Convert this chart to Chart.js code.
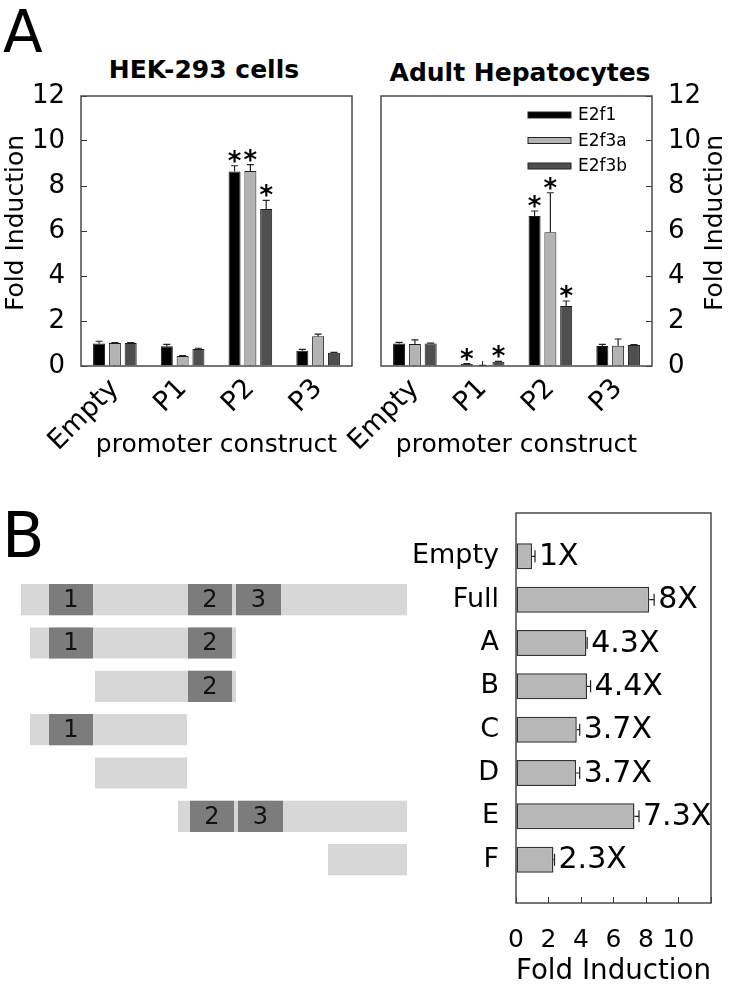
<!DOCTYPE html>
<html>
<head>
<meta charset="utf-8">
<script src="https://cdn.jsdelivr.net/npm/chart.js@4.4.0/dist/chart.umd.min.js"></script>
<style>
body { margin: 0; background: #fff; }
#fig { position: relative; width: 729px; height: 989px; font-family: "DejaVu Sans", sans-serif; color: #000; }
#fig canvas, #fig .txt { position: absolute; }
.txt { line-height: 1; white-space: nowrap; }
.panel { font-size: 58px; }
.ttl { font-size: 25px; font-weight: bold; transform: translateX(-50%); }
</style>
</head>
<body>
<div id="fig">
  <div class="txt panel" style="left:3px;top:3px">A</div>
  <div class="txt ttl" style="left:204px;top:57px">HEK-293 cells</div>
  <div class="txt ttl" style="left:520px;top:60px">Adult Hepatocytes</div>
  <canvas id="hek" width="365" height="390" style="left:0;top:80px"></canvas>
  <canvas id="hep" width="399" height="390" style="left:330px;top:80px"></canvas>
  <div class="txt panel" style="left:2px;top:505px;font-size:62px">B</div>
  <canvas id="map" width="410" height="489" style="left:0;top:500px"></canvas>
  <canvas id="dele" width="329" height="489" style="left:400px;top:500px"></canvas>
</div>
<script>
// ---- panel A data ----
var promoters = ['Empty', 'P1', 'P2', 'P3'];
var seriesNames = ['E2f1', 'E2f3a', 'E2f3b'];
var seriesColors = ['#000000', '#b3b3b3', '#4f4f4f'];
var foldTicks = [0, 2, 4, 6, 8, 10, 12];

var hekE2f1 = [1.00, 0.88, 8.65, 0.68];
var hekE2f3a = [1.02, 0.44, 8.67, 1.32];
var hekE2f3b = [1.02, 0.76, 6.98, 0.59];
var hekE2f1Err = [0.10, 0.08, 0.25, 0.06];
var hekE2f3aErr = [0.02, 0.02, 0.28, 0.10];
var hekE2f3bErr = [0.02, 0.03, 0.38, 0.02];
var hekE2f1Sig = [0, 0, 1, 0];
var hekE2f3aSig = [0, 0, 1, 0];
var hekE2f3bSig = [0, 0, 1, 0];

var hepE2f1 = [1.00, 0.09, 6.67, 0.89];
var hepE2f3a = [0.98, 0.02, 5.95, 0.90];
var hepE2f3b = [1.00, 0.19, 2.67, 0.93];
var hepE2f1Err = [0.05, 0.02, 0.22, 0.07];
var hepE2f3aErr = [0.18, 0.01, 1.75, 0.30];
var hepE2f3bErr = [0.02, 0.02, 0.22, 0.02];
var hepE2f1Sig = [0, 1, 1, 0];
var hepE2f3aSig = [0, 0, 1, 0];
var hepE2f3bSig = [0, 1, 1, 0];

// ---- panel B data ----
var constructs = ['Empty', 'Full', 'A', 'B', 'C', 'D', 'E', 'F'];
var deletionFold = [0.99, 8.2, 4.33, 4.37, 3.74, 3.70, 7.29, 2.30];
var deletionErr = [0.18, 0.30, 0.05, 0.22, 0.18, 0.22, 0.28, 0.07];
var deletionText = ['1X', '8X', '4.3X', '4.4X', '3.7X', '3.7X', '7.3X', '2.3X'];
var deletionTicks = [0, 2, 4, 6, 8, 10, 12];
var deletionTickLabels = ['0', '2', '4', '6', '8', '10', ''];

// construct map, relative position along the promoter
var promoterSpan = [null, [21, 407], [30, 236], [95, 236], [30, 187], [95, 187], [178, 407], [328, 407]];
var site1 = [null, [49, 93], [49, 93], null, [49, 93], null, null, null];
var site2 = [null, [188, 232], [188, 232], [188, 232], null, null, [190, 234], null];
var site3 = [null, [236, 281], null, null, null, null, [238, 283], null];

Chart.defaults.font.family = '"DejaVu Sans", sans-serif';
Chart.defaults.color = '#000';
Chart.defaults.animation = false;
Chart.defaults.plugins.legend.display = false;
Chart.defaults.plugins.tooltip.enabled = false;

function pad(arr) { return [null].concat(arr, [null]); }

// keep tick-label overflow from pushing the plot area around
function noEdgePadding(s) {
    s.paddingTop = 0; s.paddingBottom = 0;
    s.paddingLeft = 0; s.paddingRight = 0;
}

var framePlugin = {
    id: 'frame',
    afterDraw: function(chart) {
        var a = chart.chartArea, ctx = chart.ctx;
        ctx.save();
        ctx.strokeStyle = '#4a4a4a';
        ctx.lineWidth = 1.5;
        ctx.strokeRect(a.left, a.top, a.right - a.left, a.bottom - a.top);
        ctx.restore();
    }
};

var errorBars = {
    id: 'errorBars',
    afterDatasetsDraw: function(chart) {
        var ctx = chart.ctx;
        var horiz = chart.options.indexAxis === 'y';
        var vScale = horiz ? chart.scales.x : chart.scales.y;
        chart.data.datasets.forEach(function(ds, i) {
            if (!ds.errors) return;
            var meta = chart.getDatasetMeta(i);
            meta.data.forEach(function(bar, j) {
                var v = ds.data[j], e = ds.errors[j];
                if (v == null) return;
                var end = vScale.getPixelForValue(v + (e || 0));
                ctx.save();
                ctx.strokeStyle = '#222';
                ctx.lineWidth = 1.2;
                ctx.beginPath();
                if (horiz) {
                    ctx.moveTo(bar.x, bar.y); ctx.lineTo(end, bar.y);
                    ctx.moveTo(end, bar.y - 6); ctx.lineTo(end, bar.y + 6);
                } else {
                    ctx.moveTo(bar.x, bar.y); ctx.lineTo(bar.x, end);
                    ctx.moveTo(bar.x - 3.5, end); ctx.lineTo(bar.x + 3.5, end);
                }
                ctx.stroke();
                ctx.fillStyle = '#000';
                if (ds.stars && ds.stars[j]) {
                    ctx.font = 'bold 26px "DejaVu Sans"';
                    ctx.textAlign = 'center';
                    ctx.textBaseline = 'alphabetic';
                    ctx.fillText('*', bar.x, end + 4);
                }
                if (ds.endText && ds.endText[j]) {
                    ctx.font = '30px "DejaVu Sans"';
                    ctx.textAlign = 'left';
                    ctx.textBaseline = 'middle';
                    ctx.fillText(ds.endText[j], end + 4, bar.y + 1);
                }
                ctx.restore();
            });
        });
    }
};

var sideTitle = {
    id: 'sideTitle',
    afterDraw: function(chart, args, opts) {
        if (!opts.text) return;
        var a = chart.chartArea, ctx = chart.ctx;
        var x = opts.side === 'right' ? a.right + opts.gap : a.left - opts.gap;
        ctx.save();
        ctx.translate(x, (a.top + a.bottom) / 2 - 8);
        ctx.rotate(-Math.PI / 2);
        ctx.font = '25px "DejaVu Sans"';
        ctx.fillStyle = '#000';
        ctx.textAlign = 'center';
        ctx.textBaseline = 'middle';
        ctx.fillText(opts.text, 0, 0);
        ctx.restore();
    }
};

var boxLegend = {
    id: 'boxLegend',
    afterDraw: function(chart, args, opts) {
        if (!opts.show) return;
        var a = chart.chartArea, ctx = chart.ctx;
        ctx.save();
        chart.data.datasets.forEach(function(ds, k) {
            var x = a.right - 124, y = a.top + 19 + k * 25.5;
            ctx.fillStyle = ds.backgroundColor;
            ctx.strokeStyle = '#222';
            ctx.lineWidth = 1;
            ctx.fillRect(x, y - 3, 43, 6);
            ctx.strokeRect(x, y - 3, 43, 6);
            ctx.fillStyle = '#000';
            ctx.font = '17px "DejaVu Sans"';
            ctx.textAlign = 'left';
            ctx.textBaseline = 'middle';
            ctx.fillText(ds.label, x + 50, y + 1);
        });
        ctx.restore();
    }
};

var boxNumbers = {
    id: 'boxNumbers',
    afterDatasetsDraw: function(chart) {
        var ctx = chart.ctx;
        chart.data.datasets.forEach(function(ds, i) {
            if (!ds.boxText) return;
            chart.getDatasetMeta(i).data.forEach(function(bar, j) {
                if (ds.data[j] == null) return;
                var p = bar.getProps(['x', 'y', 'base'], true);
                ctx.save();
                ctx.font = '24px "DejaVu Sans"';
                ctx.fillStyle = '#111';
                ctx.textAlign = 'center';
                ctx.textBaseline = 'middle';
                ctx.fillText(ds.boxText, (p.x + p.base) / 2, p.y + 1);
                ctx.restore();
            });
        });
    }
};

function promoterChart(id, values, errors, stars, side) {
    var ctx = document.getElementById(id).getContext('2d');
    return new Chart(ctx, {
        type: 'bar',
        data: {
            labels: promoters,
            datasets: seriesNames.map(function(name, k) {
                return {
                    label: name,
                    data: values[k],
                    errors: errors[k],
                    stars: stars[k],
                    backgroundColor: seriesColors[k],
                    borderColor: '#1a1a1a',
                    borderWidth: 1,
                    barPercentage: 0.76,
                    categoryPercentage: 0.7
                };
            })
        },
        options: {
            responsive: false,
            layout: { padding: side === 'left' ? { top: 16, right: 13 } : { top: 16, left: 51 } },
            scales: {
                x: {
                    grid: { drawOnChartArea: false, offset: false, tickLength: -5, color: '#333' },
                    border: { display: false },
                    ticks: { font: { size: 27 }, minRotation: 45, maxRotation: 45, padding: 12, autoSkip: false },
                    title: { display: true, text: 'promoter construct', font: { size: 25 }, padding: { top: 0, bottom: 10 } },
                    afterFit: function(s) { s.height = 104; noEdgePadding(s); }
                },
                y: {
                    position: side,
                    min: 0,
                    max: 12,
                    afterBuildTicks: function(s) { s.ticks = foldTicks.map(function(v) { return { value: v }; }); },
                    grid: { drawOnChartArea: false, tickLength: -6, color: '#333' },
                    border: { display: false },
                    ticks: { font: { size: 26 }, padding: 22 },
                    afterFit: function(s) { s.width = side === 'left' ? 81 : 77; noEdgePadding(s); }
                }
            },
            plugins: {
                sideTitle: { text: 'Fold Induction', side: side, gap: side === 'left' ? 65 : 63 },
                boxLegend: { show: side === 'right' }
            }
        },
        plugins: [errorBars, framePlugin, sideTitle, boxLegend]
    });
}

promoterChart('hek',
    [hekE2f1, hekE2f3a, hekE2f3b],
    [hekE2f1Err, hekE2f3aErr, hekE2f3bErr],
    [hekE2f1Sig, hekE2f3aSig, hekE2f3bSig], 'left');

promoterChart('hep',
    [hepE2f1, hepE2f3a, hepE2f3b],
    [hepE2f1Err, hepE2f3aErr, hepE2f3bErr],
    [hepE2f1Sig, hepE2f3aSig, hepE2f3bSig], 'right');

// ---- panel B: construct map ----
var rowLabels = pad(constructs).map(function(c) { return c || ''; });

new Chart(document.getElementById('map').getContext('2d'), {
    type: 'bar',
    data: {
        labels: rowLabels,
        datasets: [
            { label: 'site 1', data: pad(site1), boxText: '1', backgroundColor: '#7c7c7c', order: 0 },
            { label: 'site 2', data: pad(site2), boxText: '2', backgroundColor: '#7c7c7c', order: 0 },
            { label: 'site 3', data: pad(site3), boxText: '3', backgroundColor: '#7c7c7c', order: 0 },
            { label: 'promoter', data: pad(promoterSpan), backgroundColor: '#d7d7d7', order: 1 }
        ].map(function(d) {
            d.grouped = false;
            d.borderWidth = 0;
            d.barPercentage = 0.72;
            d.categoryPercentage = 1;
            return d;
        })
    },
    options: {
        responsive: false,
        indexAxis: 'y',
        layout: { padding: { top: 13, bottom: 86, left: 0, right: 0 } },
        scales: {
            x: { display: false, min: 0, max: 410 },
            y: { display: false, offset: false }
        }
    },
    plugins: [boxNumbers]
});

// ---- panel B: fold induction of deletions ----
new Chart(document.getElementById('dele').getContext('2d'), {
    type: 'bar',
    data: {
        labels: rowLabels,
        datasets: [{
            label: 'Fold Induction',
            data: pad(deletionFold),
            errors: pad(deletionErr),
            endText: pad(deletionText),
            backgroundColor: '#b7b7b7',
            borderColor: '#333',
            borderWidth: 1.5,
            borderSkipped: false,
            barPercentage: 0.6,
            categoryPercentage: 1
        }]
    },
    options: {
        responsive: false,
        indexAxis: 'y',
        layout: { padding: { top: 13, right: 18, left: 0, bottom: 0 } },
        scales: {
            y: {
                offset: false,
                grid: { display: false, drawTicks: false },
                border: { display: false },
                ticks: { font: { size: 27 }, padding: 17, autoSkip: false },
                afterFit: function(s) { s.width = 116; noEdgePadding(s); }
            },
            x: {
                min: 0,
                max: 12,
                afterBuildTicks: function(s) { s.ticks = deletionTicks.map(function(v) { return { value: v }; }); },
                grid: { drawOnChartArea: false, tickLength: -6, color: '#333' },
                border: { display: false },
                ticks: {
                    font: { size: 25 },
                    padding: 28,
                    minRotation: 0,
                    maxRotation: 0,
                    autoSkip: false,
                    callback: function(v, i) { return deletionTickLabels[i]; }
                },
                title: { display: true, text: 'Fold Induction', font: { size: 29 }, padding: { top: 0, bottom: 0 } },
                afterFit: function(s) { s.height = 86; noEdgePadding(s); }
            }
        }
    },
    plugins: [errorBars, framePlugin]
});
</script>
</body>
</html>
